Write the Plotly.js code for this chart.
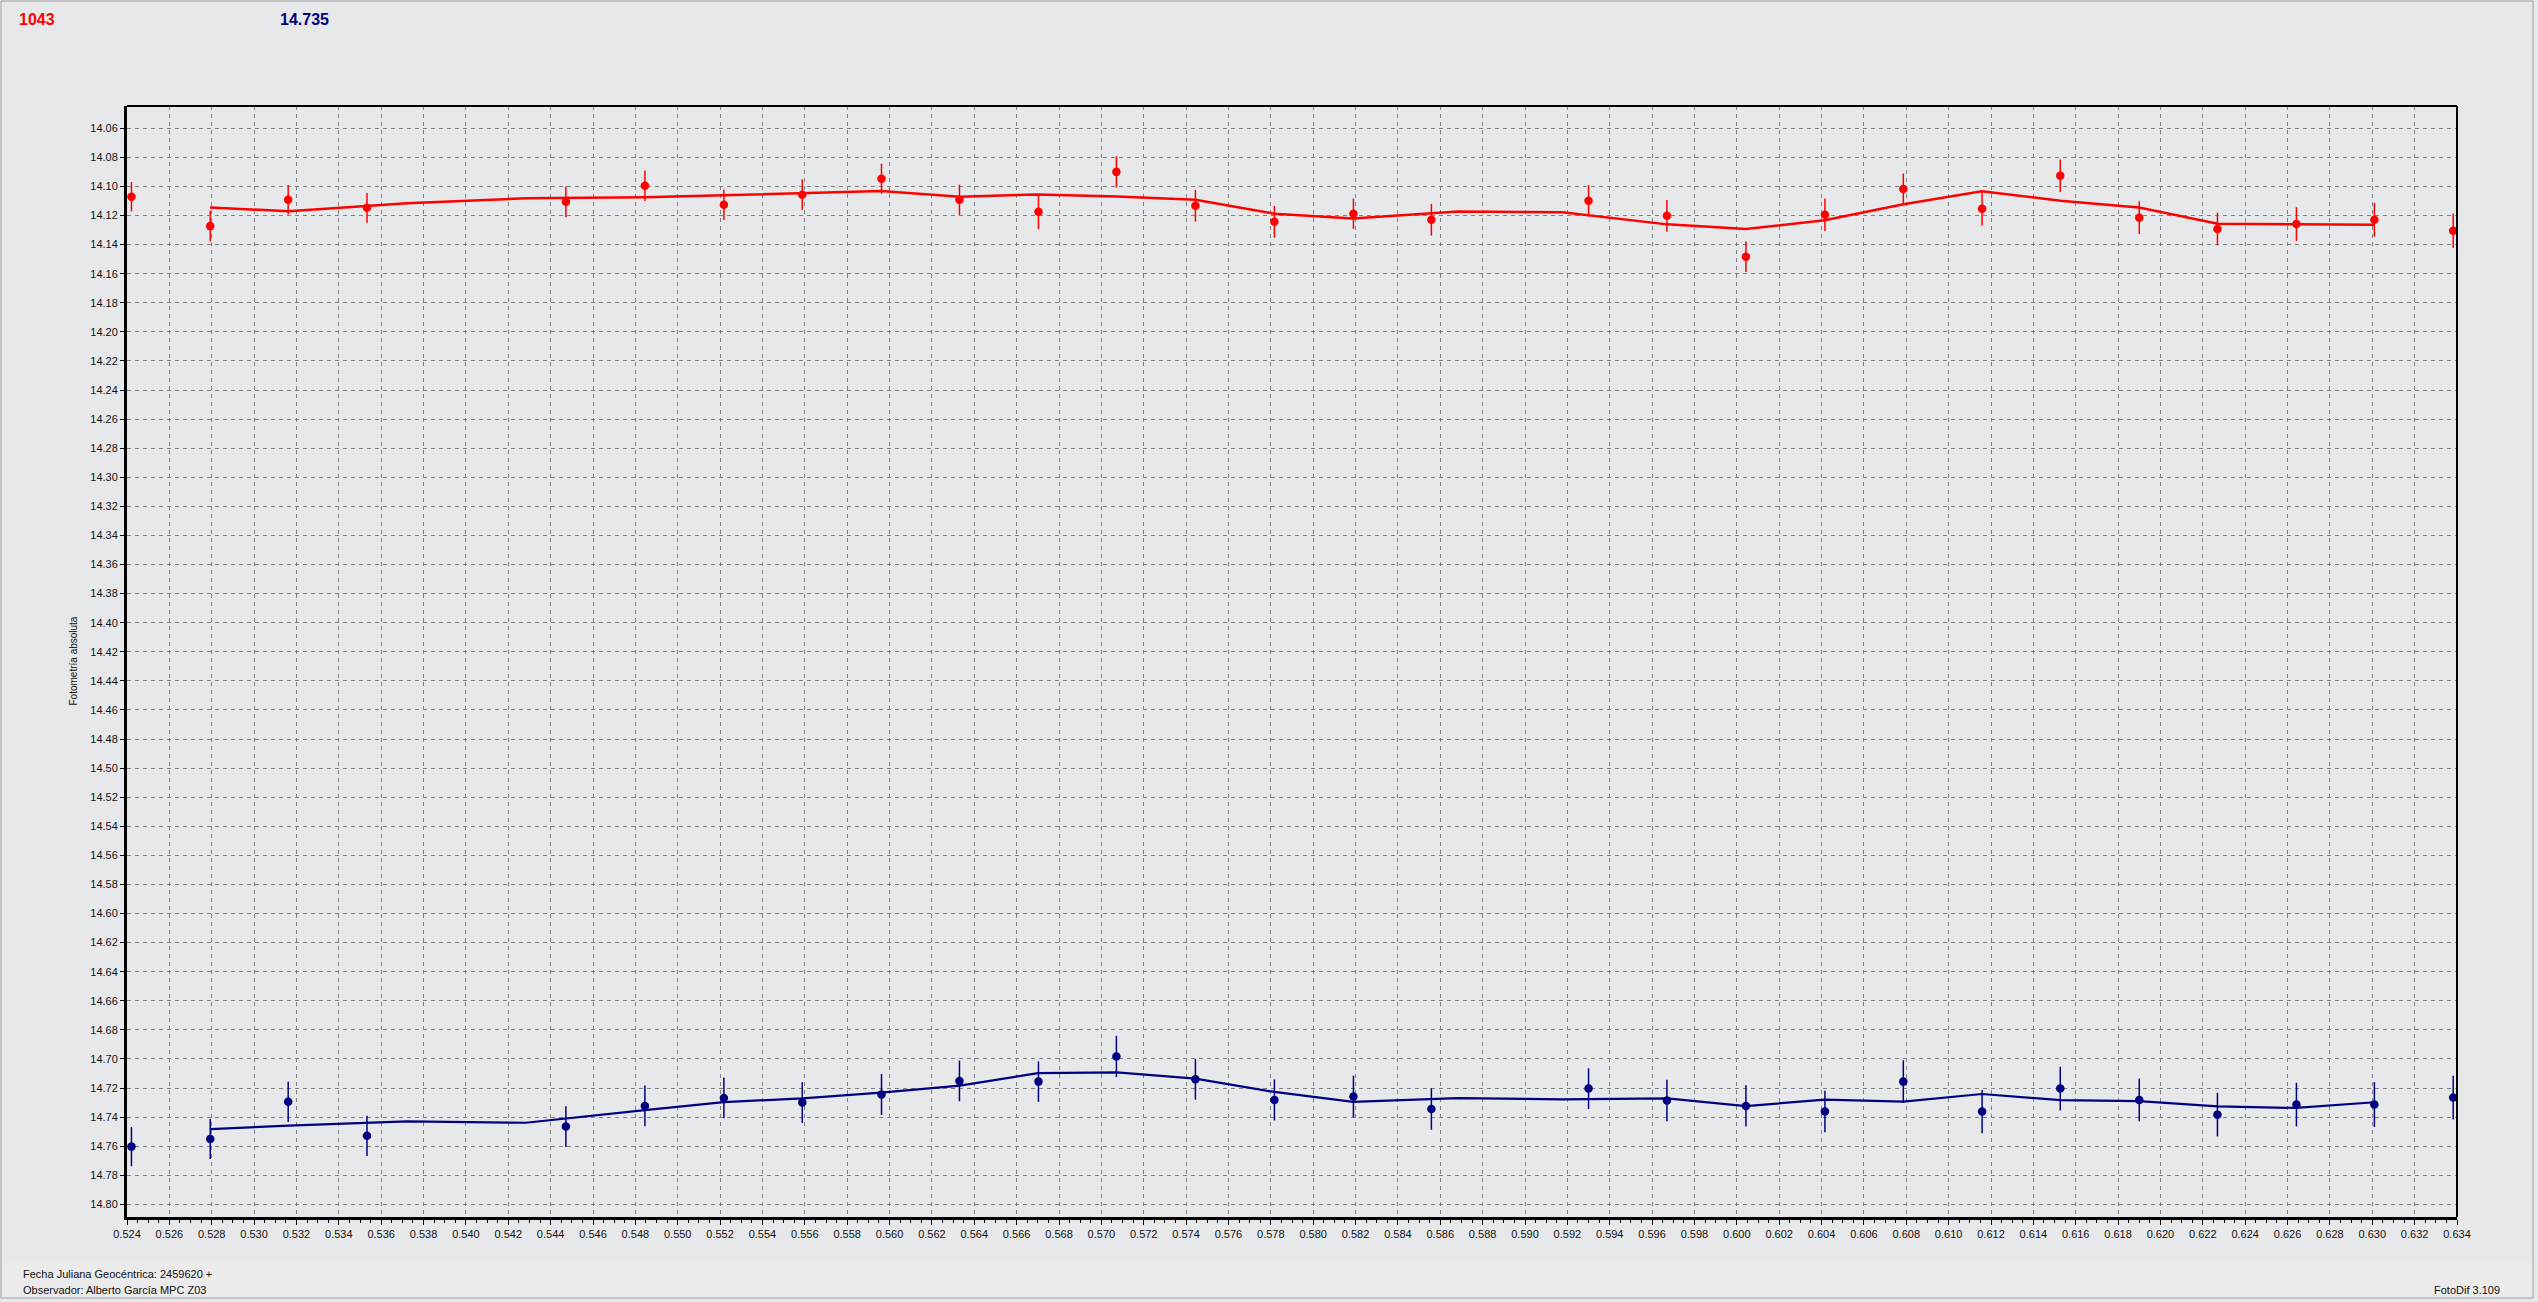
<!DOCTYPE html>
<html>
<head>
<meta charset="utf-8">
<script src="https://cdn.plot.ly/plotly-3.0.1.min.js"></script>
<style>
html,body{margin:0;padding:0;background:#e7e8ea;}
#chart{width:2538px;height:1302px;}
</style>
</head>
<body>
<div id="chart"></div>
<script>
// ---- Data ----
const jd = [0.52421,0.52793,0.53161,0.53533,0.54472,0.54845,0.55218,0.55588,0.55962,0.56330,
            0.56703,0.57071,0.57444,0.57817,0.58190,0.58558,0.59300,0.59670,0.60043,0.60416,
            0.60786,0.61158,0.61527,0.61900,0.62269,0.62642,0.63010,0.63382];

const magRed = [14.1071,14.1273,14.1092,14.1147,14.1105,14.0995,14.1126,14.1057,14.0947,14.1092,
                14.1174,14.0900,14.1133,14.1243,14.1188,14.1229,14.1099,14.1202,14.1483,14.1195,
                14.1018,14.1153,14.0927,14.1215,14.1293,14.1259,14.1229,14.1305];
const errRed = [0.0101,0.0105,0.0101,0.0102,0.0107,0.0105,0.0105,0.0105,0.0104,0.0104,
                0.0119,0.0107,0.0109,0.0109,0.0104,0.0109,0.0108,0.0109,0.0105,0.0112,
                0.0107,0.0115,0.0112,0.0113,0.0112,0.0116,0.0116,0.0118];

const magBlue = [14.7603,14.7550,14.7295,14.7529,14.7465,14.7323,14.7268,14.7300,14.7245,14.7151,
                 14.7156,14.6983,14.7140,14.7282,14.7259,14.7344,14.7204,14.7286,14.7323,14.7362,
                 14.7156,14.7362,14.7204,14.7282,14.7383,14.7314,14.7314,14.7266];
const errBlue = [0.0135,0.0139,0.0138,0.0139,0.0140,0.0140,0.0140,0.0140,0.0141,0.0140,
                 0.0139,0.0142,0.0140,0.0141,0.0143,0.0143,0.0140,0.0143,0.0142,0.0143,
                 0.0147,0.0149,0.0150,0.0147,0.0150,0.0150,0.0154,0.0150];

// smoothed curves (vertices)
const lineX = [0.52792,0.53162,0.53722,0.54283,0.54845,0.55217,0.55589,0.55960,0.56332,0.56701,
               0.57073,0.57444,0.57817,0.58188,0.58683,0.59176,0.59671,0.60043,0.60415,0.60787,
               0.61157,0.61528,0.61899,0.62270,0.62640,0.63011];
const lineRed = [14.1145,14.1171,14.1115,14.1082,14.1075,14.1059,14.1043,14.1032,14.1071,14.1055,
                 14.1069,14.1092,14.1188,14.1220,14.1172,14.1177,14.1261,14.1293,14.1232,14.1122,
                 14.1033,14.1098,14.1145,14.1256,14.1260,14.1264];
const lineBlue = [14.7483,14.7458,14.7430,14.7439,14.7352,14.7297,14.7271,14.7232,14.7184,14.7097,
                  14.7093,14.7135,14.7227,14.7295,14.7269,14.7278,14.7271,14.7324,14.7280,14.7293,
                  14.7241,14.7283,14.7290,14.7326,14.7337,14.7298];

const headRed = "1043";
const headBlue = "14.735";
const yTitle = "Fotometría absoluta";
const footer1 = "Fecha Juliana Geocéntrica: 2459620 +";
const footer2 = "Observador: Alberto García MPC Z03";
const footerRight = "FotoDif 3.109";

// ---- Layout geometry ----
const W = 2538, H = 1302, L = 127, R = 81, T = 106, B = 85;
const pw = W - L - R, ph = H - T - B;
const px2x = p => (p - L) / pw;
const py2y = p => (H - B - p) / ph;

const RED = "#ff0000", BLUE = "#000080";
const FONT = "Liberation Sans, Arial, sans-serif";

const traces = [
  {x: lineX, y: lineRed, type: "scatter", mode: "lines", line: {color: RED, width: 2.5}, hoverinfo: "skip"},
  {x: lineX, y: lineBlue, type: "scatter", mode: "lines", line: {color: BLUE, width: 2.2}, hoverinfo: "skip"},
  {x: jd, y: magRed, type: "scatter", mode: "markers",
   marker: {color: RED, size: 8.5},
   error_y: {type: "data", array: errRed, visible: true, color: RED, thickness: 1.5, width: 0}},
  {x: jd, y: magBlue, type: "scatter", mode: "markers",
   marker: {color: BLUE, size: 8.5},
   error_y: {type: "data", array: errBlue, visible: true, color: BLUE, thickness: 1.5, width: 0}}
];

const layout = {
  width: W, height: H,
  margin: {l: L, r: R, t: T, b: B, pad: 0},
  paper_bgcolor: "#e7e8ea",
  plot_bgcolor: "#e7e8ea",
  showlegend: false,
  font: {family: FONT, size: 11, color: "#111"},
  xaxis: {
    range: [0.524, 0.634], tick0: 0.524, dtick: 0.002, tickformat: ".3f",
    showgrid: true, gridcolor: "#808080", gridwidth: 1, griddash: "4px,4px",
    zeroline: false, showline: true, linecolor: "#000", linewidth: 3,
    ticks: "outside", ticklen: 5, tickwidth: 1, tickcolor: "#000",
    minor: {dtick: 0.0005, tick0: 0.524, ticks: "outside", ticklen: 3, tickwidth: 1, tickcolor: "#000",
            showgrid: false, gridcolor: "rgba(0,0,0,0)"},
    tickfont: {family: FONT, size: 11, color: "#111"}
  },
  yaxis: {
    range: [14.8087, 14.0447], tick0: 14.06, dtick: 0.02, tickformat: ".2f",
    showgrid: true, gridcolor: "#808080", gridwidth: 1, griddash: "4px,4px",
    zeroline: false, showline: true, linecolor: "#000", linewidth: 3,
    ticks: "outside", ticklen: 4, tickwidth: 1, tickcolor: "#000",
    tickfont: {family: FONT, size: 11, color: "#111"}
  },
  shapes: [
    {type: "rect", xref: "paper", yref: "paper", x0: px2x(1), x1: px2x(2533), y0: py2y(1263), y1: py2y(1298),
     fillcolor: "#ebebec", line: {width: 0}, layer: "below"},
    {type: "rect", xref: "paper", yref: "paper", x0: px2x(1), x1: px2x(2533), y0: py2y(1), y1: py2y(1298),
     fillcolor: "rgba(0,0,0,0)", line: {color: "#a0a0a0", width: 1}, layer: "below"},
    {type: "line", xref: "paper", yref: "paper", x0: 0, x1: 1, y0: 1, y1: 1, line: {color: "#000", width: 2}},
    {type: "line", xref: "paper", yref: "paper", x0: 1, x1: 1, y0: 0, y1: 1, line: {color: "#000", width: 2}}
  ],
  annotations: [
    {text: "<b>" + headRed + "</b>", xref: "paper", yref: "paper", x: px2x(17), y: py2y(19.5),
     xanchor: "left", yanchor: "middle", showarrow: false, font: {family: FONT, size: 16, color: RED}},
    {text: "<b>" + headBlue + "</b>", xref: "paper", yref: "paper", x: px2x(278), y: py2y(19.5),
     xanchor: "left", yanchor: "middle", showarrow: false, font: {family: FONT, size: 16, color: BLUE}},
    {text: yTitle, xref: "paper", yref: "paper", x: px2x(73), y: 0.5, textangle: -90,
     xanchor: "center", yanchor: "middle", showarrow: false, font: {family: FONT, size: 10, color: "#111"}},
    {text: footer1, xref: "paper", yref: "paper", x: px2x(21), y: py2y(1274),
     xanchor: "left", yanchor: "middle", showarrow: false, font: {family: FONT, size: 11, color: "#111"}},
    {text: footer2, xref: "paper", yref: "paper", x: px2x(21), y: py2y(1290),
     xanchor: "left", yanchor: "middle", showarrow: false, font: {family: FONT, size: 11, color: "#111"}},
    {text: footerRight, xref: "paper", yref: "paper", x: px2x(2502), y: py2y(1290),
     xanchor: "right", yanchor: "middle", showarrow: false, font: {family: FONT, size: 11, color: "#111"}}
  ]
};

Plotly.newPlot("chart", traces, layout, {displayModeBar: false, staticPlot: true});
</script>
</body>
</html>
